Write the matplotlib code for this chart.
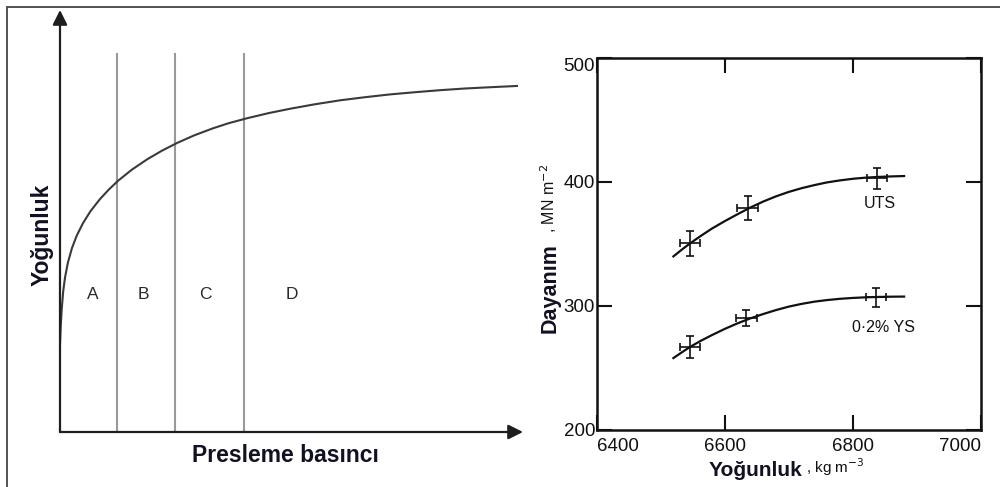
import matplotlib
matplotlib.use("Agg")
import matplotlib.pyplot as plt
from matplotlib.patches import Rectangle

plt.rcParams['font.family'] = ['Liberation Sans', 'DejaVu Sans']

# ---------------- data ----------------
# Left schematic: density vs compaction pressure (arbitrary units 0-100)
press_curve = [0.0, 0.15, 0.37, 0.7, 1.08, 1.7, 2.59, 3.6, 4.97, 6.6, 8.64, 10.5,
               12.5, 15.5, 18.8, 22.0, 25.3, 29.0, 33.0, 36.5, 40.4, 45.0, 49.7,
               55.0, 60.5, 66.0, 71.3, 77.0, 82.1, 87.5, 92.9, 98.7]
dens_curve = [20.8, 24.9, 29.1, 33.4, 36.6, 40.1, 43.6, 46.5, 49.5, 52.35, 55.2, 57.4,
              59.5, 62.15, 64.6, 66.65, 68.5, 70.3, 71.95, 73.2, 74.35, 75.55, 76.6,
              77.65, 78.6, 79.35, 80.0, 80.55, 81.0, 81.4, 81.7, 82.0]
stage_bounds = [12.3, 24.8, 39.7]
stage_top = 89.8
stage_labels = ['A', 'B', 'C', 'D']
stage_label_x = [7.1, 18.1, 31.5, 50.1]
stage_label_y = 32.5

# Right chart: strength vs density
dens_pts = [6546, 6636, 6838]
uts_pts = [350.5, 379.0, 403.0]
uts_yerr = [10, 9.5, 8.5]
ys_dens_pts = [6546, 6634, 6836]
ys_pts = [267.0, 290.0, 307.0]
ys_yerr = [9, 6.5, 7.5]
xerr = [16, 16, 16]

uts_fit_x = [6520, 6533, 6546, 6563, 6580, 6600, 6620, 6640, 6660, 6680, 6700, 6720,
             6740, 6760, 6780, 6800, 6820, 6840, 6860, 6880]
uts_fit_y = [340.0, 345.4, 350.5, 356.6, 362.4, 368.4, 374.0, 379.4, 384.2, 388.4,
             392.0, 395.0, 397.5, 399.7, 401.3, 402.6, 403.5, 404.1, 404.5, 404.8]
ys_fit_x = [6520, 6533, 6546, 6563, 6580, 6600, 6620, 6640, 6660, 6680, 6700, 6720,
            6740, 6760, 6780, 6800, 6820, 6840, 6860, 6880]
ys_fit_y = [258.0, 262.6, 267.0, 272.0, 276.5, 281.5, 286.0, 290.0, 293.5, 296.7,
            299.5, 301.7, 303.5, 304.8, 305.8, 306.5, 307.0, 307.3, 307.5, 307.6]

x_ticks = [6400, 6600, 6800, 7000]
y_ticks = [200, 300, 400, 500]

# ---------------- figure ----------------
W, H = 1000, 487
fig = plt.figure(figsize=(W / 100, H / 100), dpi=100)
fig.patch.set_facecolor('white')

def fx(px):
    return px / W

def fy(py):
    return 1 - py / H

# outer border (left and top edges visible)
fig.patches.append(Rectangle((fx(7), -0.1), 1.2, fy(7) + 0.1, transform=fig.transFigure,
                             fill=False, edgecolor='#444444', linewidth=1.3))

# ---- left schematic ----
axl = fig.add_axes([fx(60), fy(432), fx(523) - fx(60), fy(10) - fy(432)])
axl.set_xlim(0, 100)
axl.set_ylim(0, 100)
axl.axis('off')

for xb in stage_bounds:
    axl.plot([xb, xb], [0, stage_top], color='#999999', lw=1.5, solid_capstyle='butt')
axl.plot(press_curve, dens_curve, color='#3a3a3a', lw=1.5)

arrow_kw = dict(arrowstyle='-|>', mutation_scale=22, lw=1.6, color='#1e1e1e',
                shrinkA=0, shrinkB=0)
axl.annotate('', xy=(0, 100), xytext=(0, 0), arrowprops=arrow_kw, annotation_clip=False)
axl.annotate('', xy=(100, 0), xytext=(0, 0), arrowprops=arrow_kw, annotation_clip=False)

for lab, xl in zip(stage_labels, stage_label_x):
    axl.text(xl, stage_label_y, lab, ha='center', va='center', fontsize=12.5, color='#2a2a2a')

fig.text(fx(42), fy(235), 'Yoğunluk', rotation=90, ha='center', va='center',
         fontsize=16.5, fontweight='bold', color='#111122')
fig.text(fx(285), fy(456), 'Presleme basıncı', ha='center', va='center',
         fontsize=16.5, fontweight='bold', color='#111122')

# ---- right chart ----
axr = fig.add_axes([fx(596.5), fy(430), fx(981) - fx(596.5), fy(58) - fy(430)])
axr.set_xlim(6400, 7000)
axr.set_ylim(200, 500)
for s in axr.spines.values():
    s.set_linewidth(1.8)
    s.set_color('#111111')

axr.plot(uts_fit_x, uts_fit_y, color='#111111', lw=1.6)
axr.plot(ys_fit_x, ys_fit_y, color='#111111', lw=1.6)
axr.errorbar(dens_pts, uts_pts, yerr=uts_yerr, xerr=xerr, fmt='none', ecolor='#111111',
             elinewidth=1.2, capsize=3, capthick=1.2)
axr.errorbar(ys_dens_pts, ys_pts, yerr=ys_yerr, xerr=xerr, fmt='none', ecolor='#111111',
             elinewidth=1.2, capsize=3, capthick=1.2)

axr.set_xticks(x_ticks)
axr.set_xticklabels([str(v) for v in x_ticks])
axr.set_yticks(y_ticks)
axr.set_yticklabels([str(v) for v in y_ticks])
axr.tick_params(direction='in', length=11, width=1.5, top=True, right=True,
                labelsize=13.5, colors='#111111')
axr.tick_params(axis='x', pad=6)
axr.tick_params(axis='y', pad=1)
xt = axr.get_xticklabels()
xt[0].set_ha('left')
xt[-1].set_ha('right')
yt = axr.get_yticklabels()
yt[-1].set_va('top')

axr.text(6842, 383, 'UTS', ha='center', va='center', fontsize=11.5, color='#111111')
axr.text(6848, 283, '0·2% YS', ha='center', va='center', fontsize=11.5, color='#111111')

fig.text(fx(550), fy(288), 'Dayanım', rotation=90, ha='center', va='center',
         fontsize=15.5, fontweight='bold', color='#111122')
fig.text(fx(549), fy(233), ', MN m$^{-2}$', rotation=90, ha='center', va='bottom',
         fontsize=11.5, color='#111111')
fig.text(fx(755), fy(470), 'Yoğunluk', ha='center', va='center',
         fontsize=15, fontweight='bold', color='#111122')
fig.text(fx(806), fy(467), ', kg m$^{-3}$', ha='left', va='center',
         fontsize=11, color='#111111')

fig.savefig('out.png', dpi=100, facecolor='white')
